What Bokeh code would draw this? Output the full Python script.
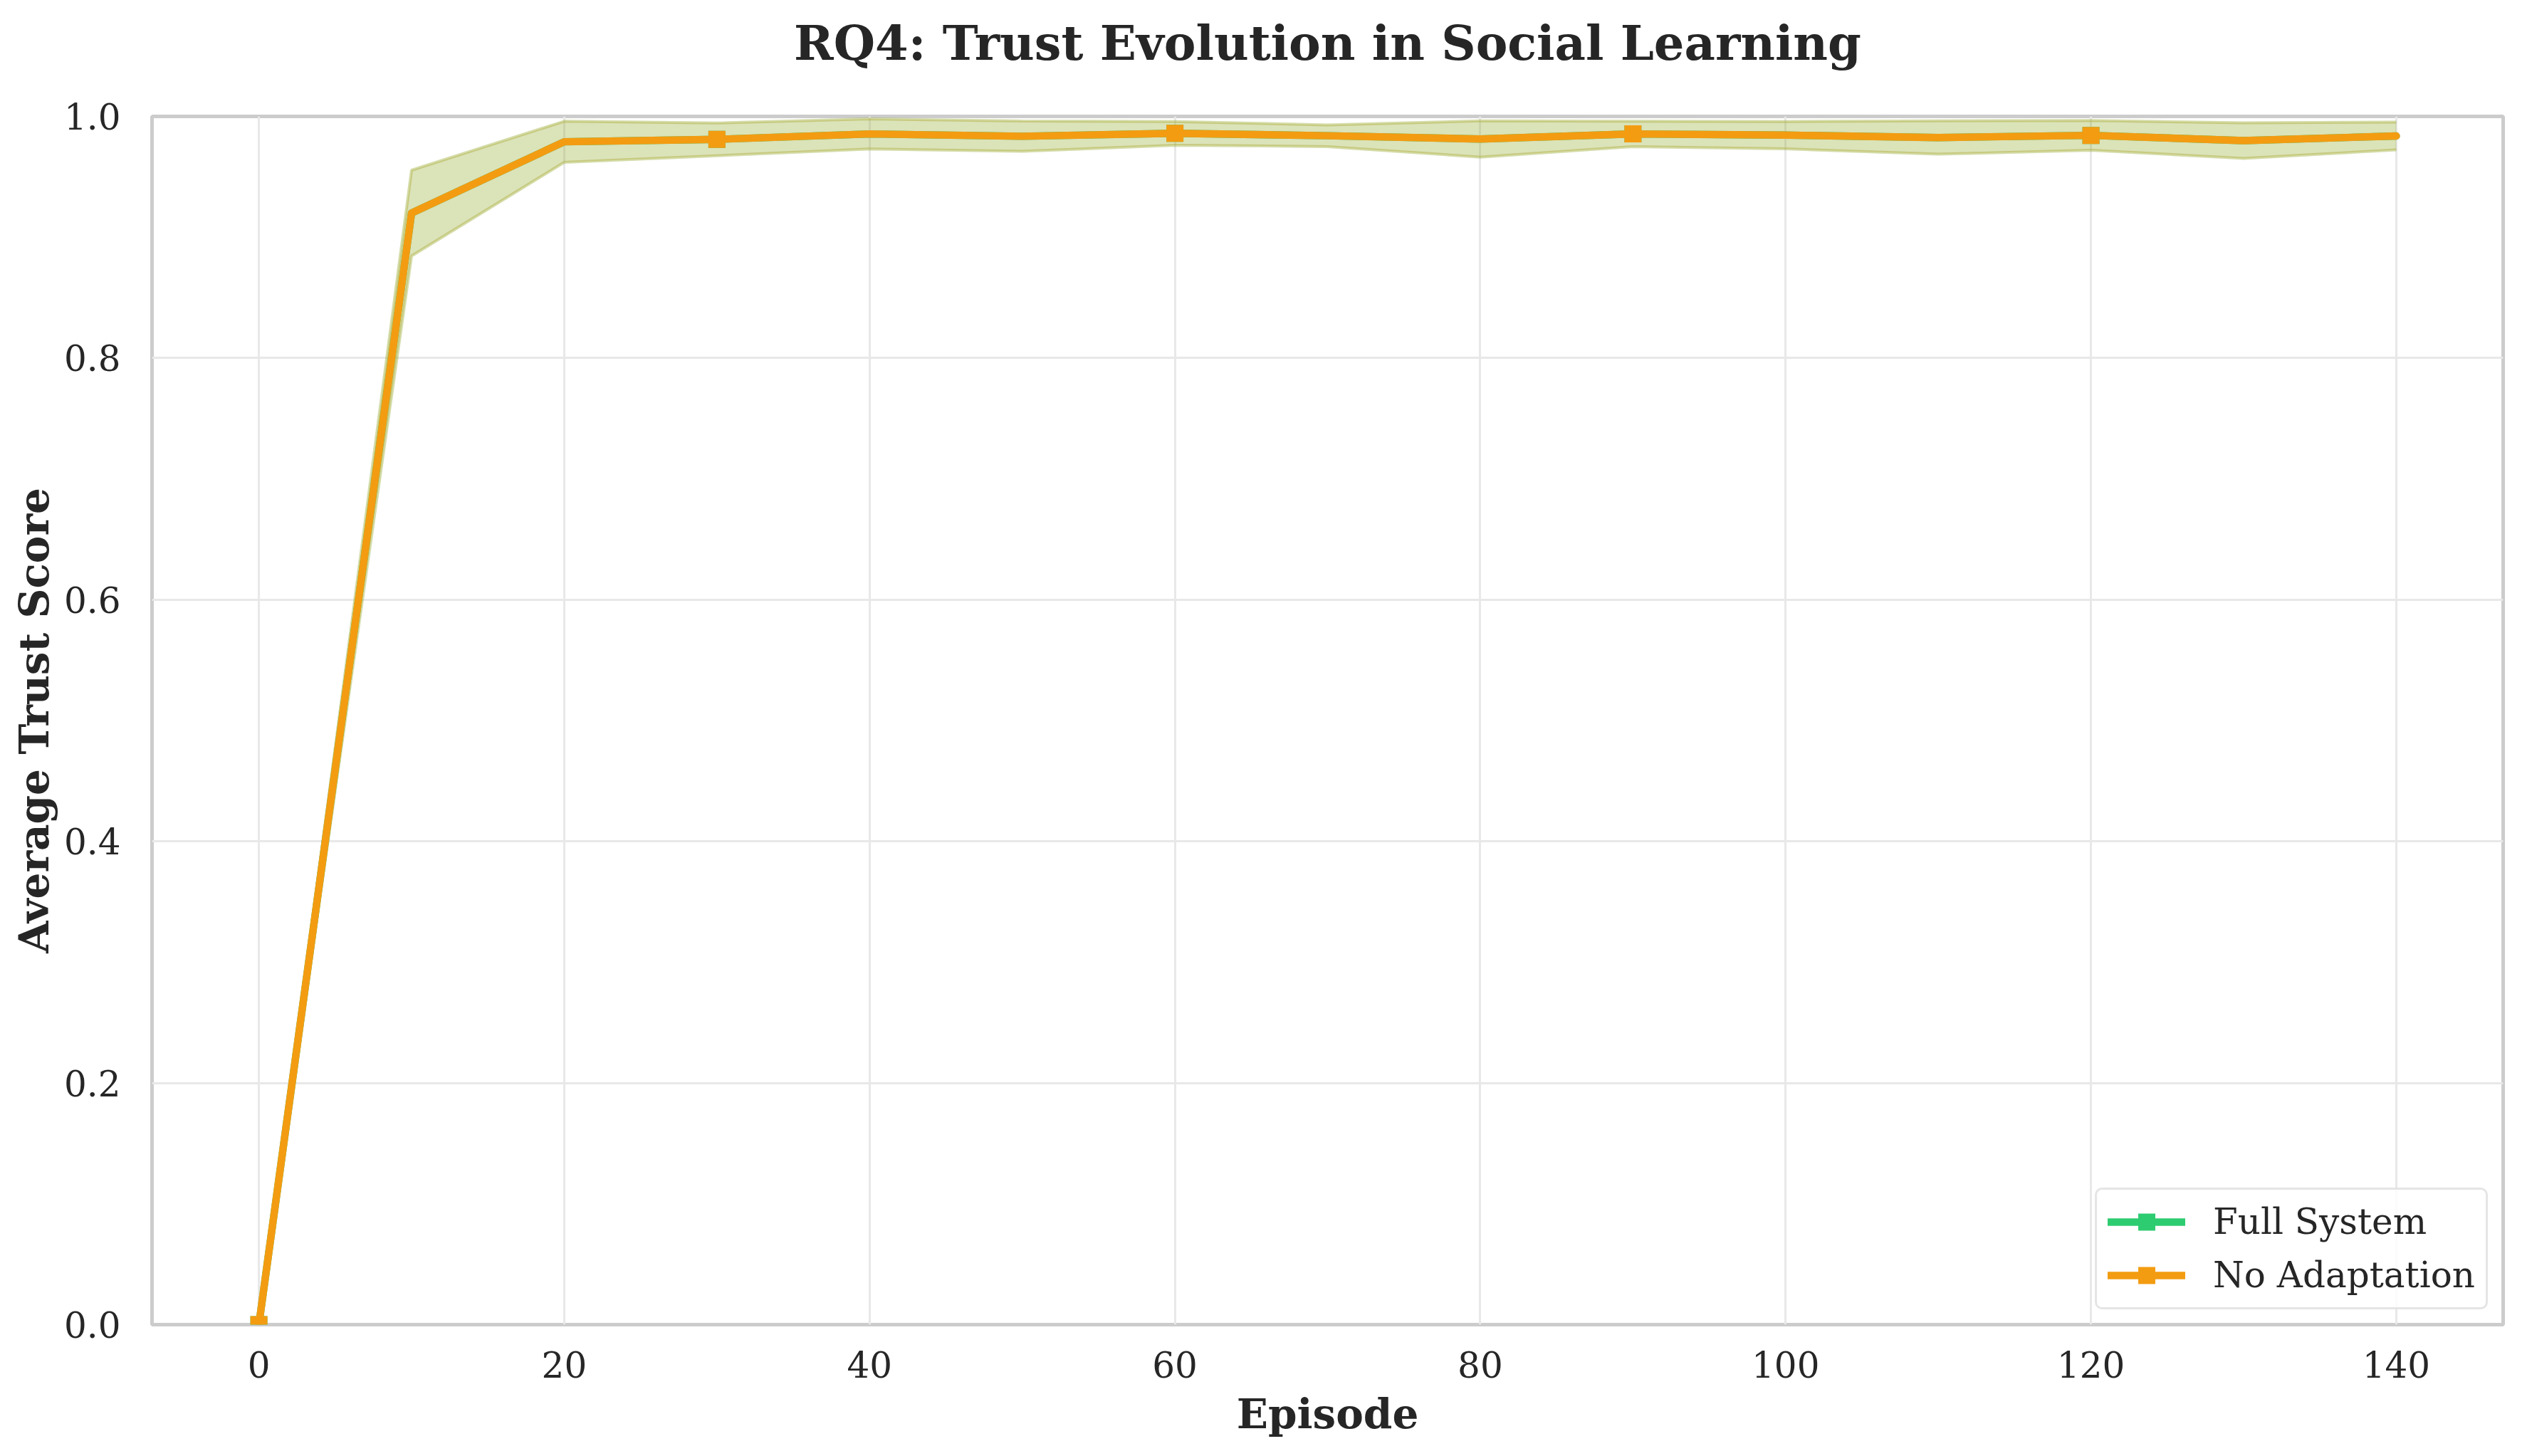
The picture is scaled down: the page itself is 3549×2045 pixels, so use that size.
from bokeh.plotting import figure
from bokeh.models import Range1d, FixedTicker, Legend, LegendItem, Title
from bokeh.embed import file_html
from bokeh.resources import INLINE

# ---- data ----
episodes = [0, 10, 20, 30, 40, 50, 60, 70, 80, 90, 100, 110, 120, 130, 140]
full_mean = [0.0, 0.920, 0.979, 0.981, 0.9855, 0.9836, 0.986, 0.984, 0.9813, 0.9855, 0.9845, 0.9825, 0.9843, 0.980, 0.9838]
full_std = [0.0, 0.0355, 0.017, 0.0135, 0.0125, 0.0125, 0.0098, 0.009, 0.015, 0.0105, 0.0113, 0.0138, 0.0123, 0.0147, 0.0115]
noad_mean = [0.0, 0.920, 0.979, 0.981, 0.9855, 0.9836, 0.986, 0.984, 0.9813, 0.9855, 0.9845, 0.9825, 0.9843, 0.980, 0.9838]
noad_std = [0.0, 0.0355, 0.017, 0.0135, 0.0125, 0.0125, 0.0098, 0.009, 0.015, 0.0105, 0.0113, 0.0138, 0.0123, 0.0147, 0.0115]
series_names = ["Full System", "No Adaptation"]
series_colors = ["#2ecc71", "#f39c12"]
x_ticks = [0, 20, 40, 60, 80, 100, 120, 140]
y_ticks = [0.0, 0.2, 0.4, 0.6, 0.8, 1.0]
title_text = "RQ4: Trust Evolution in Social Learning"

FONT = "DejaVu Serif"
TXT = "#262626"

p = figure(width=3533, height=2029, output_backend="svg", toolbar_location=None, title=None,
           x_range=Range1d(-7, 147), y_range=Range1d(0, 1),
           min_border_left=213, min_border_right=18, min_border_top=163, min_border_bottom=169)

# blank spacer between frame and title (added first: nearest the frame)
spacer = Title(text=" ", text_font_size="1px", standoff=43, text_color="white")
p.add_layout(spacer, "above")

title = Title(text=title_text, text_font=FONT, text_font_size="67px", text_font_style="bold",
              text_color=TXT, align="center", vertical_align="bottom", standoff=36)
p.add_layout(title, "above")

p.outline_line_color = "#cccccc"
p.outline_line_width = 5
p.background_fill_color = "white"
p.border_fill_color = "white"

xa = p.below[0]
ya = p.left[0]
for ax in (xa, ya):
    ax.axis_line_color = None
    ax.major_tick_line_color = None
    ax.minor_tick_line_color = None
    ax.major_label_text_font = FONT
    ax.major_label_text_font_size = "50px"
    ax.major_label_text_color = TXT
    ax.axis_label_text_font = FONT
    ax.axis_label_text_font_size = "58px"
    ax.axis_label_text_font_style = "bold"
    ax.axis_label_text_color = TXT

xa.ticker = FixedTicker(ticks=x_ticks)
ya.ticker = FixedTicker(ticks=y_ticks)
xa.major_label_overrides = {t: str(t) for t in x_ticks}
ya.major_label_overrides = {t: f"{t:.1f}" for t in y_ticks}
xa.axis_label = "Episode"
ya.axis_label = "Average Trust Score"
xa.major_label_standoff = 31
ya.major_label_standoff = 38
xa.axis_label_standoff = 14
ya.axis_label_standoff = 5

p.grid.grid_line_color = "#e8e8e8"
p.grid.grid_line_width = 3

means = [full_mean, noad_mean]
stds = [full_std, noad_std]

# bands
for m, s, c in zip(means, stds, series_colors):
    lo = [a - b for a, b in zip(m, s)]
    hi = [a + b for a, b in zip(m, s)]
    p.varea(x=episodes, y1=lo, y2=hi, fill_color=c, fill_alpha=0.2)
    p.line(episodes, lo, line_color=c, line_alpha=0.25, line_width=4)
    p.line(episodes, hi, line_color=c, line_alpha=0.25, line_width=4)

items = []
for m, c, name in zip(means, series_colors, series_names):
    ln = p.line(episodes, m, line_color=c, line_width=10.4, line_cap="round", line_join="round")
    mk = p.scatter(episodes[::3], m[::3], marker="square", size=24, fill_color=c, line_color=c, line_width=0)
    items.append(LegendItem(label=name, renderers=[ln, mk]))

legend = Legend(items=items, location="bottom_right")
legend.label_text_font = FONT
legend.label_text_font_size = "50px"
legend.label_text_color = TXT
legend.glyph_width = 109
legend.glyph_height = 60
legend.label_height = 60
legend.spacing = 15
legend.padding = 15
legend.label_standoff = 39
legend.margin = 21
legend.border_line_color = "#cccccc"
legend.border_line_width = 3
legend.border_radius = 10
legend.background_fill_color = "white"
legend.background_fill_alpha = 0.8
p.add_layout(legend, "center")

open("out.html", "w").write(file_html(p, INLINE))
